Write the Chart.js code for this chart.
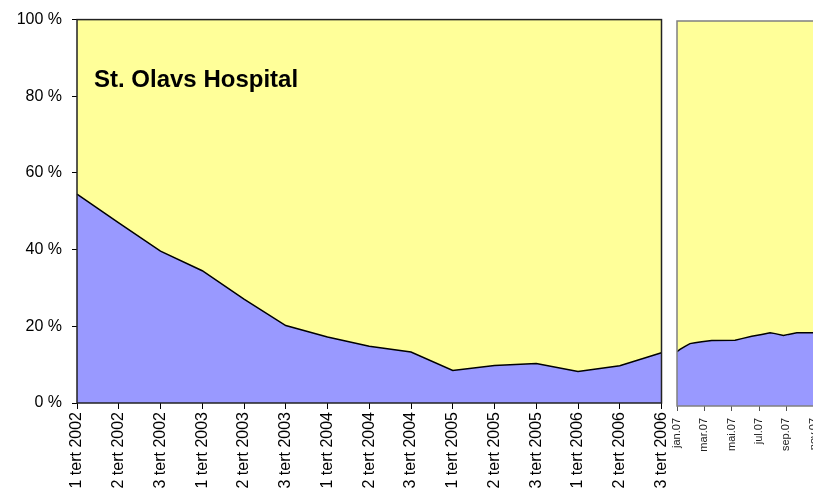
<!DOCTYPE html>
<html>
<head>
<meta charset="utf-8">
<script src="https://cdn.jsdelivr.net/npm/chart.js@4/dist/chart.umd.min.js"></script>
<style>
  html, body { margin: 0; padding: 0; background: #fff; }
  #wrap { position: relative; width: 813px; height: 496px; overflow: hidden; background: #fff; }
  #left { position: absolute; left: 0; top: 0; }
  #right { position: absolute; left: 665px; top: 0; }
  #title { position: absolute; left: 94px; top: 67px; font: bold 24px/24px "Liberation Sans", Arial, sans-serif; color: #000; white-space: nowrap; }
</style>
</head>
<body>
<div id="wrap">
  <canvas id="left" width="672" height="496"></canvas>
  <canvas id="right" width="186" height="496"></canvas>
  <div id="title">St. Olavs Hospital</div>
</div>
<script>
// ---- data ----
const tertLabels = ['1 tert 2002','2 tert 2002','3 tert 2002','1 tert 2003','2 tert 2003','3 tert 2003',
  '1 tert 2004','2 tert 2004','3 tert 2004','1 tert 2005','2 tert 2005','3 tert 2005',
  '1 tert 2006','2 tert 2006','3 tert 2006'];
const blueTert = [54.5, 47.0, 39.6, 34.5, 27.1, 20.2, 17.2, 14.8, 13.3, 8.5, 9.8, 10.3, 8.2, 9.7, 13.1];

const monthLabels = ['jan.07','feb.07','mar.07','apr.07','mai.07','jun.07','jul.07','aug.07','sep.07','okt.07','nov.07','des.07'];
const monthPos  = [0, 0.22, 0.59, 0.95, 1.32, 1.81, 2.54, 4.25, 4.74, 5.47, 6.2, 6.81, 7.18, 7.79, 8.15, 8.77, 10];
const blueMonth = [14.1, 14.7, 15.5, 16.2, 16.4, 16.7, 17.0, 17.1, 17.5, 18.1, 18.6, 19.0, 18.8, 18.3, 18.6, 19.0, 19.0];

const yTicks = [0, 20, 40, 60, 80, 100];

// ---- styles ----
const FAM = '"Liberation Sans", Arial, sans-serif';
const BLUE = '#9999FF';
const YELLOW = '#FFFF99';

const framePlugin = {
  id: 'frame',
  afterDatasetsDraw(chart, args, opts) {
    const a = chart.chartArea, ctx = chart.ctx;
    ctx.save();
    ctx.strokeStyle = opts.color;
    ctx.lineWidth = opts.width;
    ctx.strokeRect(a.left, a.top, a.right - a.left, a.bottom - a.top);
    ctx.restore();
  }
};

// ---- left chart ----
new Chart(document.getElementById('left'), {
  type: 'line',
  data: {
    labels: tertLabels,
    datasets: [
      { data: blueTert, backgroundColor: BLUE, borderColor: '#000', borderWidth: 1.5,
        fill: 'origin', pointRadius: 0, tension: 0 },
      { data: blueTert.map(v => 100 - v), backgroundColor: YELLOW, borderWidth: 0,
        borderColor: 'rgba(0,0,0,0)', fill: '-1', pointRadius: 0, tension: 0 }
    ]
  },
  options: {
    responsive: false, animation: false,
    layout: { padding: { top: 17, right: 10.5, left: 0, bottom: 0 } },
    plugins: { legend: { display: false }, tooltip: { enabled: false },
      frame: { color: '#222', width: 1.5 } },
    scales: {
      x: {
        type: 'category', offset: false,
        grid: { drawOnChartArea: false, tickLength: 6, tickColor: '#000', offset: false },
        border: { display: false },
        ticks: { autoSkip: false, maxRotation: 90, minRotation: 90, padding: 3,
          color: '#000', font: { family: FAM, size: 16 } },
        afterFit: s => { s.height = 93; s.paddingRight = 0; s.paddingLeft = 0; }
      },
      y: {
        stacked: true, min: 0, max: 100,
        afterBuildTicks: s => { s.ticks = yTicks.map(v => ({ value: v })); },
        grid: { drawOnChartArea: false, tickLength: 5, tickColor: '#000' },
        border: { display: false },
        ticks: { padding: 10, color: '#000', font: { family: FAM, size: 16 },
          callback: v => v + ' %' },
        afterFit: s => { s.width = 77; }
      }
    }
  },
  plugins: [framePlugin]
});

// ---- right chart ----
const rightBlue = monthPos.map((x, i) => ({ x: x, y: blueMonth[i] }));
const rightYellow = monthPos.map((x, i) => ({ x: x, y: 100 - blueMonth[i] }));
new Chart(document.getElementById('right'), {
  type: 'line',
  data: {
    datasets: [
      { data: rightBlue, backgroundColor: BLUE, borderColor: '#000', borderWidth: 1.5,
        fill: 'origin', pointRadius: 0, tension: 0 },
      { data: rightYellow, backgroundColor: YELLOW, borderWidth: 0,
        borderColor: 'rgba(0,0,0,0)', fill: '-1', pointRadius: 0, tension: 0 }
    ]
  },
  options: {
    responsive: false, animation: false,
    layout: { padding: { top: 21, right: 10, left: 12, bottom: 0 } },
    plugins: { legend: { display: false }, tooltip: { enabled: false },
      frame: { color: '#808080', width: 1.5 } },
    scales: {
      x: {
        type: 'linear', min: 0, max: 12,
        afterBuildTicks: s => { s.ticks = [0, 2, 4, 6, 8, 10].map(v => ({ value: v })); },
        grid: { drawOnChartArea: false, tickLength: 5, tickColor: '#555' },
        border: { display: false },
        ticks: { autoSkip: false, maxRotation: 90, minRotation: 90, padding: 7,
          color: '#222', font: { family: FAM, size: 11 },
          callback: v => monthLabels[v] || '' },
        afterFit: s => { s.height = 90; s.paddingRight = 0; s.paddingLeft = 0; }
      },
      y: { stacked: true, display: false, min: 0, max: 100 }
    }
  },
  plugins: [framePlugin]
});
</script>
</body>
</html>
